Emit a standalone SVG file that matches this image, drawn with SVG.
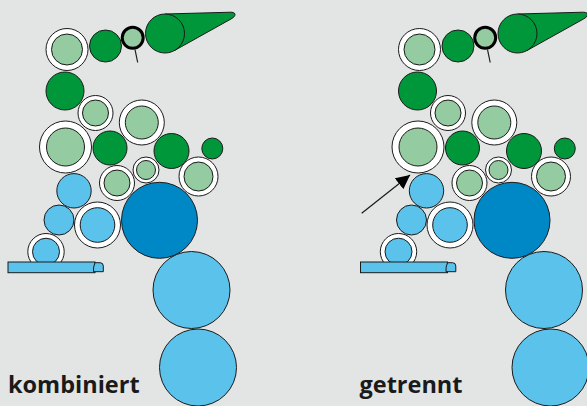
<svg xmlns="http://www.w3.org/2000/svg" width="587" height="406" viewBox="0 0 587 406">
<style>
.dg{fill:#00963a;stroke:#1a1a1a;stroke-width:1}
.lg{fill:#95cba1;stroke:#1a1a1a;stroke-width:1}
.lb{fill:#5bc3eb;stroke:#1a1a1a;stroke-width:1}
.db{fill:#0088c6;stroke:#1a1a1a;stroke-width:1}
.ring{fill:#ffffff;stroke:#1a1a1a;stroke-width:1}
.thick{fill:#95cba1;stroke:#000;stroke-width:3}
.ln{stroke:#1a1a1a;stroke-width:1.2;fill:none}
.lbl{font-family:"Open Sans","DejaVu Sans",sans-serif;font-weight:bold;font-size:23.5px;fill:#1a1a1a}
</style>
<defs>
<marker id="ah" viewBox="0 0 14 14" refX="14" refY="7" markerWidth="14" markerHeight="14" markerUnits="userSpaceOnUse" orient="auto">
<path d="M0,0 L14,7 L0,14 Z" fill="#000"/>
</marker>
</defs>
<rect width="587" height="406" fill="#e3e5e4"/>

<g id="left">
<g id="L-ring1"><circle class="ring" cx="67" cy="49.5" r="21"/><circle class="lg" cx="67" cy="49.5" r="15.5"/></g>
<g id="L-dg1"><circle class="dg" cx="105.5" cy="46" r="16"/></g>
<g id="L-thick"><line class="ln" x1="135" y1="49.5" x2="137.7" y2="62.5"/><circle class="thick" cx="132.7" cy="37.8" r="10.5"/></g>
<g id="L-cone"><path class="dg" d="M165 14 L231 12.2 Q236 12.5 234.8 15.5 Q234 17.5 231 19 L174.5 50.5 Z"/><circle class="dg" cx="165" cy="33.5" r="19.5"/></g>
<g id="L-dg2"><circle class="dg" cx="65" cy="91" r="19"/></g>
<g id="L-ring2"><circle class="ring" cx="95.5" cy="113" r="17.5"/><circle class="lg" cx="95.5" cy="113" r="13"/></g>
<g id="L-ring3"><circle class="ring" cx="141.8" cy="122.5" r="22.5"/><circle class="lg" cx="141.8" cy="122.5" r="16.5"/></g>
<g id="L-ring4"><circle class="ring" cx="65.5" cy="147" r="26"/><circle class="lg" cx="65.5" cy="147" r="19"/></g>
<g id="L-dg3"><circle class="dg" cx="110" cy="148" r="17"/></g>
<g id="L-dg4"><circle class="dg" cx="171.5" cy="151" r="17.5"/></g>
<g id="L-dg5"><circle class="dg" cx="212.3" cy="148.5" r="10.5"/></g>
<g id="L-ring5"><circle class="ring" cx="146" cy="170" r="13"/><circle class="lg" cx="146" cy="170" r="9.5"/></g>
<g id="L-ring6"><circle class="ring" cx="117" cy="183" r="17.5"/><circle class="lg" cx="117" cy="183" r="13"/></g>
<g id="L-ring7"><circle class="ring" cx="198.5" cy="176.5" r="19.5"/><circle class="lg" cx="198.5" cy="176.5" r="14.5"/></g>
<g id="L-lb1"><circle class="lb" cx="74" cy="190.8" r="17.2"/></g>
<g id="L-db"><circle class="db" cx="159.5" cy="220.3" r="38"/></g>
<g id="L-lb2"><circle class="lb" cx="59" cy="220" r="15"/></g>
<g id="L-ring8"><circle class="ring" cx="97.5" cy="225" r="23"/><circle class="lb" cx="97.5" cy="225" r="17.3"/></g>
<g id="L-ring9"><circle class="ring" cx="46" cy="251.7" r="18.2"/><circle class="lb" cx="46" cy="251.7" r="13.5"/></g>
<g id="L-bar"><rect class="lb" x="8" y="262" width="87" height="10.7"/><path class="lb" d="M95 262.7 Q93 267 93.5 271.7 L103.3 271.7 L103.3 266 Q103.3 262.7 100 262.7 Z"/></g>
<g id="L-lb3"><circle class="lb" cx="191.5" cy="290" r="38.5"/></g>
<g id="L-lb4"><circle class="lb" cx="198" cy="367.5" r="38.5"/></g>
<text id="L-label" class="lbl" x="8" y="393">kombiniert</text>
</g>

<g id="right" transform="translate(352.5,0)">
<g id="R-ring1"><circle class="ring" cx="67" cy="49.5" r="21"/><circle class="lg" cx="67" cy="49.5" r="15.5"/></g>
<g id="R-dg1"><circle class="dg" cx="105.5" cy="46" r="16"/></g>
<g id="R-thick"><line class="ln" x1="135" y1="49.5" x2="137.7" y2="62.5"/><circle class="thick" cx="132.7" cy="37.8" r="10.5"/></g>
<g id="R-cone"><path class="dg" d="M165 14 L231 12.2 Q236 12.5 234.8 15.5 Q234 17.5 231 19 L174.5 50.5 Z"/><circle class="dg" cx="165" cy="33.5" r="19.5"/></g>
<g id="R-dg2"><circle class="dg" cx="65" cy="91" r="19"/></g>
<g id="R-ring2"><circle class="ring" cx="95.5" cy="113" r="17.5"/><circle class="lg" cx="95.5" cy="113" r="13"/></g>
<g id="R-ring3"><circle class="ring" cx="141.8" cy="122.5" r="22.5"/><circle class="lg" cx="141.8" cy="122.5" r="16.5"/></g>
<g id="R-ring4"><circle class="ring" cx="65.5" cy="147" r="26"/><circle class="lg" cx="65.5" cy="147" r="19"/></g>
<g id="R-dg3"><circle class="dg" cx="110" cy="148" r="17"/></g>
<g id="R-dg4"><circle class="dg" cx="171.5" cy="151" r="17.5"/></g>
<g id="R-dg5"><circle class="dg" cx="212.3" cy="148.5" r="10.5"/></g>
<g id="R-ring5"><circle class="ring" cx="146" cy="170" r="13"/><circle class="lg" cx="146" cy="170" r="9.5"/></g>
<g id="R-ring6"><circle class="ring" cx="117" cy="183" r="17.5"/><circle class="lg" cx="117" cy="183" r="13"/></g>
<g id="R-ring7"><circle class="ring" cx="198.5" cy="176.5" r="19.5"/><circle class="lg" cx="198.5" cy="176.5" r="14.5"/></g>
<g id="R-lb1"><circle class="lb" cx="74" cy="190.8" r="17.2"/></g>
<g id="R-db"><circle class="db" cx="159.5" cy="220.3" r="38"/></g>
<g id="R-lb2"><circle class="lb" cx="59" cy="220" r="15"/></g>
<g id="R-ring8"><circle class="ring" cx="97.5" cy="225" r="23"/><circle class="lb" cx="97.5" cy="225" r="17.3"/></g>
<g id="R-ring9"><circle class="ring" cx="46" cy="251.7" r="18.2"/><circle class="lb" cx="46" cy="251.7" r="13.5"/></g>
<g id="R-bar"><rect class="lb" x="8" y="262" width="87" height="10.7"/><path class="lb" d="M95 262.7 Q93 267 93.5 271.7 L103.3 271.7 L103.3 266 Q103.3 262.7 100 262.7 Z"/></g>
<g id="R-lb3"><circle class="lb" cx="191.5" cy="290" r="38.5"/></g>
<g id="R-lb4"><circle class="lb" cx="198" cy="367.5" r="38.5"/></g>
<text id="R-label" class="lbl" x="7" y="393">getrennt</text>
</g>

<g id="connectors">
<line x1="361.7" y1="213.3" x2="410" y2="175" stroke="#1a1a1a" stroke-width="1.2" marker-end="url(#ah)"/>
</g>
</svg>
